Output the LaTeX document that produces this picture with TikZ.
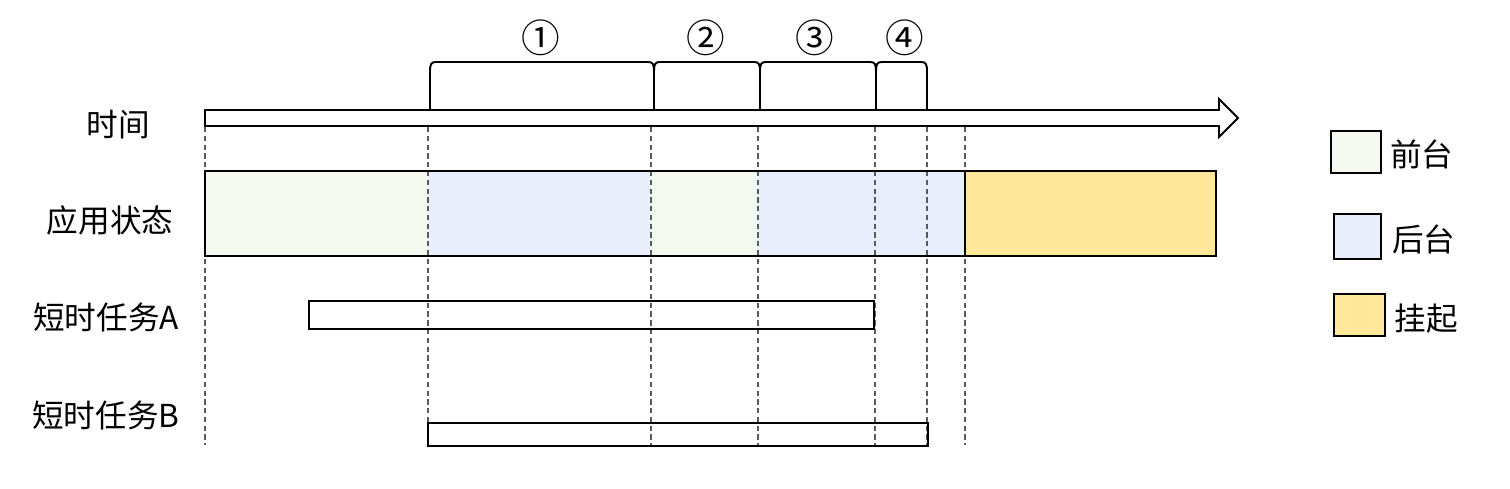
\documentclass[tikz,border=0pt]{standalone}
\usepackage{fontspec}
\newfontfamily\cjk{Noto Sans CJK SC}
\definecolor{fgc}{HTML}{F4F9F0}
\definecolor{bgc}{HTML}{E8EEFC}
\definecolor{susc}{HTML}{FFE699}
\definecolor{dashc}{HTML}{5A5A5A}
\begin{document}
\begin{tikzpicture}[x=0.02cm,y=-0.02cm,
  lbl/.style={font=\cjk\fontsize{18}{21}\selectfont, inner sep=0pt},
  num/.style={font=\cjk\fontsize{22}{24}\selectfont, inner sep=0pt},
  outl/.style={draw=black, line width=1.1pt},
  guide/.style={draw=dashc, line width=0.9pt, dash pattern=on 3pt off 2pt},
  brk/.style={draw=black, line width=1.1pt}]
\useasboundingbox (0,0) rectangle (1510,488);
% state fills
\fill[fgc] (205,171) rectangle (428,256);
\fill[bgc] (428,171) rectangle (651,256);
\fill[fgc] (651,171) rectangle (758,256);
\fill[bgc] (758,171) rectangle (965,256);
\fill[susc] (965,171) rectangle (1216,256);
% guide lines
\foreach \gx/\gn in {205/g0,428/g1,651/g2,758/g3,875/g4,927/g5,965/g6}{
  \coordinate (\gn t) at (\gx,127);
  \coordinate (\gn b) at (\gx,445);
  \draw[guide] (\gn t) -- (\gn b);
}
% state outlines
\draw[outl] (205,171) rectangle (1216,256);
\draw[outl] (965,171) -- (965,256);
% tasks
\node[outl, minimum width=565*0.02cm, minimum height=28*0.02cm, inner sep=0pt, anchor=north west] (taskA) at (308,300) {};
\node[outl, minimum width=500*0.02cm, minimum height=23*0.02cm, inner sep=0pt, anchor=north west] (taskB) at (427,422) {};
% time arrow
\draw[line width=1.1pt, line join=miter] (205,110) -- (1219,110) -- (1219,99) -- (1238,118) -- (1219,137) -- (1219,126) -- (205,126) -- cycle;
% brackets
\foreach \a/\b in {430/654,654/760,760/876,876/927}{
  \draw[brk] (\a,110) -- (\a,72) .. controls (\a,64) and (\a+1,62) .. (\a+6,62) -- (\b-6,62) .. controls (\b-1,62) and (\b,64) .. (\b,72) -- (\b,110);
}
\node[num] (n1) at (541,38) {①};
\node[num] (n2) at (706,38) {②};
\node[num] (n3) at (815,38) {③};
\node[num] (n4) at (905,38) {④};
% row labels
\node[lbl] (ltime) at (118,125) {时间};
\node[lbl] (lstate) at (110,220) {应用状态};
\node[lbl] (lA) at (106,317) {短时任务A};
\node[lbl] (lB) at (106,415) {短时任务B};
% legend
\filldraw[fill=fgc, outl] (1331,131) rectangle (1381,173);
\filldraw[fill=bgc, outl] (1334,214) rectangle (1381,259);
\filldraw[fill=susc, outl] (1334,294) rectangle (1385,336);
\node[lbl, anchor=west] (kfg) at (1390,154) {前台};
\node[lbl, anchor=west] (kbg) at (1392,239) {后台};
\node[lbl, anchor=west] (ksus) at (1394,319) {挂起};
\end{tikzpicture}
\end{document}
